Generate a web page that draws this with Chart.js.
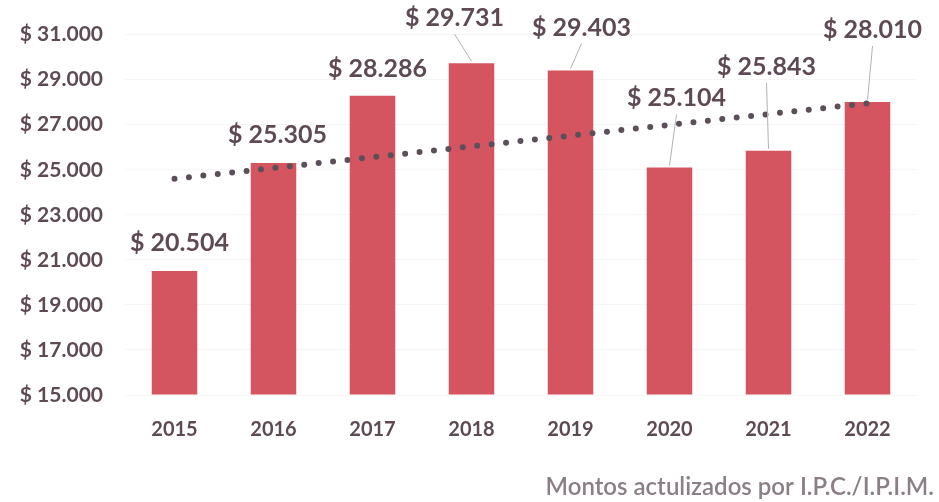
<!DOCTYPE html>
<html>
<head>
<meta charset="utf-8">
<script src="https://cdn.jsdelivr.net/npm/chart.js@4.4.1/dist/chart.umd.min.js"></script>
<style>
  html, body { margin:0; padding:0; background:#fff; }
  #wrap { width:939px; height:502px; position:relative; }
</style>
</head>
<body>
<div id="wrap"><canvas id="chart"></canvas></div>
<script>
// datos (montos en $)
const years = ['2015','2016','2017','2018','2019','2020','2021','2022'];
const montos = [20504, 25305, 28286, 29731, 29403, 25104, 25843, 28010];
// línea de tendencia: solo extremos, el resto se une con spanGaps
const tendencia = [24600, null, null, null, null, null, null, 27950];
// desplazamiento de etiquetas [dx, dy sobre la barra, con guía]
const etiquetaOffset = [[5,28,false],[4,28,false],[5,27,false],[-17,45,true],[11,43,true],[7,69,true],[-2,84,true],[5,72,true]];
const nota = 'Montos actulizados por I.P.C./I.P.I.M.';

const textColor = '#5e4a55';
const barColor = '#d4545f';
const fmt = v => '$ ' + v.toLocaleString('de-DE');

// dibuja las etiquetas de valor (con líneas guía en algunas) y la nota al pie
const etiquetas = {
  id: 'etiquetas',
  afterDatasetsDraw(chart) {
    const ctx = chart.ctx;
    const meta = chart.getDatasetMeta(1);
    ctx.save();
    ctx.font = 'bold 25px Lato';
    ctx.fillStyle = textColor;
    ctx.textAlign = 'center';
    ctx.textBaseline = 'middle';
    meta.data.forEach((bar, i) => {
      const [dx, dy, guia] = etiquetaOffset[i];
      const x = bar.x + dx, y = bar.y - dy;
      if (guia) {
        ctx.strokeStyle = '#b5b0b3';
        ctx.lineWidth = 1;
        ctx.beginPath();
        ctx.moveTo(x, y + 16);
        ctx.lineTo(bar.x, bar.y - 2);
        ctx.stroke();
      }
      ctx.fillText(fmt(montos[i]), x, y);
    });
    ctx.font = '600 24px Lato';
    ctx.fillStyle = '#8a7f86';
    ctx.textAlign = 'right';
    ctx.fillText(nota, chart.width - 5, chart.height - 15);
    ctx.restore();
  }
};

new Chart(document.getElementById('chart'), {
  data: {
    labels: years,
    datasets: [
      {
        type: 'line',
        data: tendencia,
        spanGaps: true,
        borderColor: '#5b4f5a',
        borderWidth: 6,
        borderDash: [0, 14.5],
        borderCapStyle: 'round',
        pointRadius: 0,
        order: 0
      },
      {
        type: 'bar',
        data: montos,
        base: 15000,
        backgroundColor: barColor,
        barPercentage: 0.46,
        categoryPercentage: 1,
        order: 1
      }
    ]
  },
  options: {
    responsive: true,
    maintainAspectRatio: false,
    animation: false,
    layout: { padding: { top: 30, right: 22, left: 0, bottom: 45 } },
    plugins: {
      legend: { display: false },
      tooltip: { enabled: false }
    },
    scales: {
      x: {
        grid: { display: false },
        border: { display: false },
        ticks: {
          color: textColor,
          font: { family: 'Lato', size: 20, weight: 'bold' },
          padding: 15
        }
      },
      y: {
        min: 15000,
        max: 31000,
        afterFit(scale) { scale.width = 125; },
        grid: { color: 'rgba(0,0,0,0.035)', drawTicks: false },
        border: { display: false },
        ticks: {
          stepSize: 2000,
          color: textColor,
          font: { family: 'Lato', size: 21, weight: 'bold' },
          padding: 22,
          callback: v => fmt(v)
        }
      }
    }
  },
  plugins: [etiquetas]
});
</script>
</body>
</html>
